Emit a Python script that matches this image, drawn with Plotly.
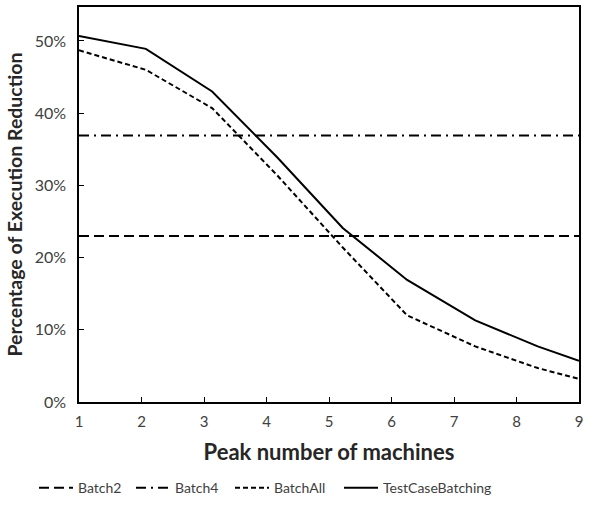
import plotly.graph_objects as go

# Data
machines = [1, 2.07, 3.13, 4.17, 5.22, 6.25, 7.34, 8.34, 9]
batch_all = [0.487, 0.460, 0.407, 0.314, 0.214, 0.120, 0.077, 0.047, 0.032]
testcase_batching = [0.507, 0.489, 0.430, 0.339, 0.241, 0.169, 0.113, 0.077, 0.057]
batch2_level = 0.230
batch4_level = 0.369
x_span = [1, 9]
x_ticks = [1, 2, 3, 4, 5, 6, 7, 8, 9]
y_ticks = [0, 0.1, 0.2, 0.3, 0.4, 0.5]
y_title = "Percentage of Execution Reduction"
x_title = "Peak number of machines"

FONT = "Lato"

fig = go.Figure()
fig.add_trace(go.Scatter(x=x_span, y=[batch2_level] * 2, mode="lines", name="Batch2",
                         legend="legend",
                         line=dict(color="black", width=2, dash="10px,5px")))
fig.add_trace(go.Scatter(x=x_span, y=[batch4_level] * 2, mode="lines", name="Batch4",
                         legend="legend2",
                         line=dict(color="black", width=2, dash="10px,5px,2px,5px")))
fig.add_trace(go.Scatter(x=machines, y=batch_all, mode="lines", name="BatchAll",
                         legend="legend3",
                         line=dict(color="black", width=2, dash="5px,3px")))
fig.add_trace(go.Scatter(x=machines, y=testcase_batching, mode="lines", name="TestCaseBatching",
                         legend="legend4",
                         line=dict(color="black", width=2)))


def leg(x_px):
    return dict(orientation="h", x=x_px / 608, xanchor="left", xref="container",
                y=-0.218, yanchor="middle",
                font=dict(family=FONT, size=14, color="#404040"),
                itemwidth=34, bgcolor="rgba(0,0,0,0)")


fig.update_layout(
    width=608, height=510,
    margin=dict(l=79, r=29, t=7, b=108, autoexpand=False),
    paper_bgcolor="white", plot_bgcolor="white",
    font=dict(family=FONT, size=14, color="#404040"),
    showlegend=True,
    legend=leg(34), legend2=leg(131), legend3=leg(230), legend4=leg(339),
    annotations=[dict(text="<b>" + y_title + "</b>", textangle=-90,
                      xref="paper", yref="paper", x=0, y=0.5, xshift=-65,
                      xanchor="center", yanchor="middle", showarrow=False,
                      font=dict(family=FONT, size=19.5, color="#262626"))],
)
fig.update_xaxes(range=[1, 9], tickvals=x_ticks, ticks="inside", ticklen=5,
                 tickcolor="black", showline=True, linecolor="black", linewidth=1.5,
                 mirror=True, showgrid=False, zeroline=False, automargin=False,
                 ticklabelstandoff=5,
                 tickfont=dict(family=FONT, size=15, color="#404040"),
                 title=dict(text="<b>" + x_title + "</b>",
                            font=dict(family=FONT, size=22, color="#262626"), standoff=16))
fig.update_yaxes(range=[0, 0.547], tickvals=y_ticks, tickformat=".0%",
                 ticks="inside", ticklabelstandoff=8,
                 ticklen=5, tickcolor="black", showline=True, linecolor="black",
                 linewidth=1.5, mirror=True, showgrid=False, zeroline=False, automargin=False,
                 tickfont=dict(family=FONT, size=16, color="#404040"))

fig.write_html("out.html", config={"displayModeBar": False},
               post_script="document.body.style.margin='0';document.body.style.padding='0';")
